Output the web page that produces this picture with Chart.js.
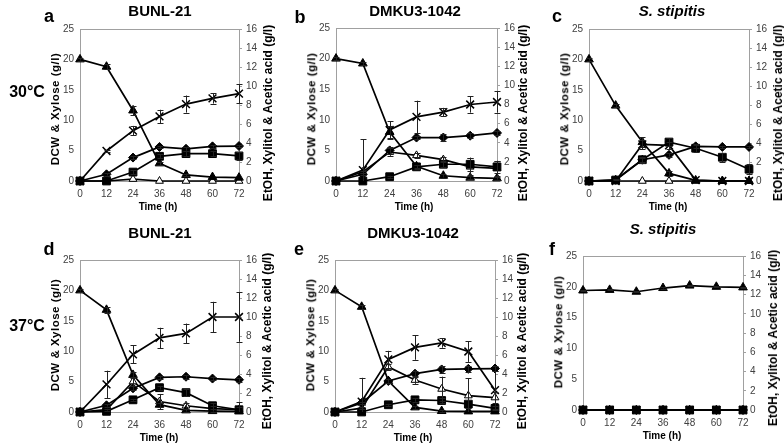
<!DOCTYPE html>
<html><head><meta charset="utf-8">
<script src="https://cdn.jsdelivr.net/npm/chart.js@4"></script>
<style>
body{margin:0;width:784px;height:447px;background:#fff;position:relative;overflow:hidden;font-family:"Liberation Sans",Arial,sans-serif;}
canvas{position:absolute;}
.t{position:absolute;font-weight:bold;white-space:nowrap;line-height:1;transform:translate(-50%,-50%);color:#000}
.ttl{font-size:15px}
.let{font-size:18px}
.temp{font-size:16px}
.yl{font-size:12px;transform:translate(-50%,-50%) rotate(-90deg)}
.yll{font-size:11.5px;letter-spacing:0.5px;transform:translate(-50%,-50%) rotate(-90deg)}
.xl{font-size:10px}
</style>
</head><body>
<script>
const hours = [0, 12, 24, 36, 48, 60, 72];
const leftTicks = [0, 5, 10, 15, 20, 25];
const rightTicks = [0, 2, 4, 6, 8, 10, 12, 14, 16];

// a: BUNL-21, 30°C
const a_xylose = [20, 18.8, 11.6, 2.9, 1.0, 0.65, 0.55];
const a_xyloseErr = [0.2, 0.4, 0.8, 0.3, 0.2, 0, 0];
const a_dcw = [0, 1.1, 3.85, 5.6, 5.3, 5.7, 5.75];
const a_dcwErr = [0, 0.2, 0.3, 0.2, 0.3, 0.2, 0.2];
const a_etoh = [0, 0, 0.94, 2.6, 2.88, 2.88, 2.64];
const a_etohErr = [0, 0, 0.2, 0.2, 0.3, 0.3, 0.4];
const a_xylitol = [0, 3.16, 5.3, 6.8, 8.1, 8.7, 9.2];
const a_xylitolErr = [0, 0.1, 0.5, 0.7, 0.9, 0.55, 1.0];
const a_acetic = [0, 0, 0.2, 0, 0, 0, 0];
const a_aceticErr = [0, 0, 0, 0, 0, 0, 0];

// b: DMKU3-1042, 30°C
const b_xylose = [20, 19.2, 8.0, 2.4, 0.86, 0.54, 0.43];
const b_xyloseErr = [0.3, 0.3, 1.0, 0.2, 0.3, 0.2, 0.2];
const b_dcw = [0, 1.1, 5.0, 7.1, 7.1, 7.4, 7.85];
const b_dcwErr = [0, 0.2, 0.6, 0.3, 0.6, 0.4, 0.4];
const b_etoh = [0, 0, 0.45, 1.48, 1.75, 1.75, 1.48];
const b_etohErr = [0, 0, 0.1, 0.2, 0.3, 0.7, 0.6];
const b_xylitol = [0, 1.14, 5.33, 6.7, 7.2, 8.0, 8.26];
const b_xylitolErr = [0, 3.2, 0.9, 1.7, 0.45, 0.85, 1.1];
const b_acetic = [0, 0.96, 3.03, 2.68, 2.24, 1.48, 1.31];
const b_aceticErr = [0, 0.1, 0.4, 0.3, 0.3, 0.9, 0.8];

// c: S. stipitis, 30°C
const c_xylose = [20, 12.4, 6.4, 1.25, 0.1, 0, 0];
const c_xyloseErr = [0.2, 0.3, 0.8, 0.4, 0, 0, 0];
const c_dcw = [0, 0.2, 3.5, 4.3, 5.7, 5.6, 5.6];
const c_dcwErr = [0, 0.1, 0.3, 0.3, 0.3, 0.2, 0.2];
const c_etoh = [0, 0.1, 2.24, 4.1, 3.45, 2.5, 1.24];
const c_etohErr = [0, 0.1, 0.3, 0.4, 0.4, 0.5, 0.5];
const c_xylitol = [0, 0, 3.85, 3.75, 0.1, 0, 0];
const c_xylitolErr = [0, 0, 0.5, 0.4, 0, 0, 0];
const c_acetic = [0, 0, 0, 0, 0, 0, 0];
const c_aceticErr = [0, 0, 0, 0, 0, 0, 0];

// d: BUNL-21, 37°C
const d_xylose = [20, 16.8, 6.1, 1.2, 0.27, 0.15, 0.1];
const d_xyloseErr = [0.2, 0.5, 0.5, 0.3, 0.2, 0, 0];
const d_dcw = [0, 1.1, 3.9, 5.7, 5.8, 5.5, 5.3];
const d_dcwErr = [0, 0.2, 0.3, 0.3, 0.3, 0.3, 0.3];
const d_etoh = [0, 0.07, 1.28, 2.56, 2.04, 0.66, 0.24];
const d_etohErr = [0, 0, 0.1, 0.2, 0.35, 0.3, 0.3];
const d_xylitol = [0, 2.9, 6.06, 7.8, 8.27, 10.0, 10.0];
const d_xylitolErr = [0, 1.45, 0.95, 1.07, 1.04, 1.6, 2.6];
const d_acetic = [0, 0.24, 3.2, 1.1, 0.66, 0.35, 0.24];
const d_aceticErr = [0, 0.1, 0.5, 0.8, 0.3, 0.3, 0.8];

// e: DMKU3-1042, 37°C
const e_xylose = [20, 17.3, 5.1, 0.76, 0.16, 0.1, 0.1];
const e_xyloseErr = [0.2, 0.3, 0.4, 0.2, 0.1, 0, 0];
const e_dcw = [0, 1.5, 5.1, 6.3, 7.0, 7.1, 7.15];
const e_dcwErr = [0, 0.2, 0.3, 0.5, 0.6, 0.5, 0.4];
const e_etoh = [0, 0, 0.76, 1.28, 1.21, 0.83, 0.38];
const e_etohErr = [0, 0, 0.1, 0.2, 0.3, 0.4, 0.2];
const e_xylitol = [0, 1.1, 5.54, 6.8, 7.27, 6.37, 2.3];
const e_xylitolErr = [0, 2.5, 0.9, 1.3, 0.5, 1.1, 2.0];
const e_acetic = [0, 0.4, 4.74, 3.36, 2.42, 1.73, 1.52];
const e_aceticErr = [0, 0.1, 0.3, 0.4, 1.3, 1.8, 0.6];

// f: S. stipitis, 37°C
const f_xylose = [19.4, 19.5, 19.2, 19.8, 20.2, 20.0, 19.9];
const f_xyloseErr = [0.1, 0.1, 0.1, 0.1, 0.1, 0.1, 0.1];
const f_dcw = [0, 0, 0, 0, 0, 0, 0];
const f_dcwErr = [0, 0, 0, 0, 0, 0, 0];
const f_etoh = [0, 0, 0, 0, 0, 0, 0];
const f_etohErr = [0, 0, 0, 0, 0, 0, 0];
const f_xylitol = [0, 0, 0, 0, 0, 0, 0];
const f_xylitolErr = [0, 0, 0, 0, 0, 0, 0];
const f_acetic = [0, 0, 0, 0, 0, 0, 0];
const f_aceticErr = [0, 0, 0, 0, 0, 0, 0];

const leftTitle = 'DCW & Xylose (g/l)';
const rightTitle = 'EtOH, Xylitol & Acetic acid (g/l)';
const timeTitle = 'Time (h)';

const panels = [
  {id:'a', name:'BUNL-21', italic:false, rect:[80,27,239,181], letter:[49,16], title:[160,10], lt:[56,109], rt:[268,113], tt:[158,207],
   xylose:a_xylose, xyloseErr:a_xyloseErr, dcw:a_dcw, dcwErr:a_dcwErr, etoh:a_etoh, etohErr:a_etohErr, xylitol:a_xylitol, xylitolErr:a_xylitolErr, acetic:a_acetic, aceticErr:a_aceticErr},
  {id:'b', name:'DMKU3-1042', italic:false, rect:[336,26,497,181], letter:[300,17], title:[415,10], lt:[312,109], rt:[523,113], tt:[414,207],
   xylose:b_xylose, xyloseErr:b_xyloseErr, dcw:b_dcw, dcwErr:b_dcwErr, etoh:b_etoh, etohErr:b_etohErr, xylitol:b_xylitol, xylitolErr:b_xylitolErr, acetic:b_acetic, aceticErr:b_aceticErr},
  {id:'c', name:'S. stipitis', italic:true, rect:[589,27,749,181], letter:[557,16], title:[672,10], lt:[565,109], rt:[778,113], tt:[668,207],
   xylose:c_xylose, xyloseErr:c_xyloseErr, dcw:c_dcw, dcwErr:c_dcwErr, etoh:c_etoh, etohErr:c_etohErr, xylitol:c_xylitol, xylitolErr:c_xylitolErr, acetic:c_acetic, aceticErr:c_aceticErr},
  {id:'d', name:'BUNL-21', italic:false, rect:[80,258,239,412], letter:[49,249], title:[160,232], lt:[56,335], rt:[267,341], tt:[159,438],
   xylose:d_xylose, xyloseErr:d_xyloseErr, dcw:d_dcw, dcwErr:d_dcwErr, etoh:d_etoh, etohErr:d_etohErr, xylitol:d_xylitol, xylitolErr:d_xylitolErr, acetic:d_acetic, aceticErr:d_aceticErr},
  {id:'e', name:'DMKU3-1042', italic:false, rect:[335,258,495,412], letter:[299,249], title:[413,232], lt:[311,335], rt:[522,341], tt:[413,438],
   xylose:e_xylose, xyloseErr:e_xyloseErr, dcw:e_dcw, dcwErr:e_dcwErr, etoh:e_etoh, etohErr:e_etohErr, xylitol:e_xylitol, xylitolErr:e_xylitolErr, acetic:e_acetic, aceticErr:e_aceticErr},
  {id:'f', name:'S. stipitis', italic:true, rect:[583,254,743,410], letter:[552,249], title:[663,228], lt:[559,332], rt:[773,338], tt:[662,436],
   xylose:f_xylose, xyloseErr:f_xyloseErr, dcw:f_dcw, dcwErr:f_dcwErr, etoh:f_etoh, etohErr:f_etohErr, xylitol:f_xylitol, xylitolErr:f_xylitolErr, acetic:f_acetic, aceticErr:f_aceticErr}
];

const GRAY = '#a0a0a0';
const TICKCOL = '#404040';
const TICKFONT = {family:'"Liberation Sans", Arial, sans-serif', size:10};

function addText(txt, cls, pos, italic) {
  const d = document.createElement('div');
  d.className = 't ' + cls;
  d.textContent = txt;
  d.style.left = pos[0] + 'px';
  d.style.top = pos[1] + 'px';
  if (italic) d.style.fontStyle = 'italic';
  document.body.appendChild(d);
}

const errorBars = {
  id: 'errorBars',
  afterDatasetsDraw(chart) {
    const ctx = chart.ctx;
    chart.data.datasets.forEach((ds, i) => {
      if (!ds.errors) return;
      const meta = chart.getDatasetMeta(i);
      const ys = chart.scales[ds.yAxisID];
      ctx.save();
      ctx.strokeStyle = '#222';
      ctx.lineWidth = 1;
      meta.data.forEach((pt, j) => {
        const e = ds.errors[j];
        if (!e) return;
        const v = ds.data[j].y;
        const top = ys.getPixelForValue(v + e);
        const bot = ys.getPixelForValue(Math.max(v - e, ys.min));
        const x = Math.round(pt.x) + 0.5;
        ctx.beginPath();
        ctx.moveTo(x, top); ctx.lineTo(x, bot);
        ctx.moveTo(x - 3, Math.round(top) + 0.5); ctx.lineTo(x + 3, Math.round(top) + 0.5);
        if (v - e > ys.min) { ctx.moveTo(x - 3, Math.round(bot) + 0.5); ctx.lineTo(x + 3, Math.round(bot) + 0.5); }
        ctx.stroke();
      });
      ctx.restore();
    });
  }
};

const frame = {
  id: 'frame',
  beforeDatasetsDraw(chart) {
    const a = chart.chartArea, ctx = chart.ctx;
    ctx.save();
    ctx.strokeStyle = GRAY; ctx.lineWidth = 1;
    ctx.beginPath();
    ctx.moveTo(a.left, Math.round(a.top) + 0.5);
    ctx.lineTo(a.right, Math.round(a.top) + 0.5);
    ctx.stroke();
    ctx.restore();
  }
};

function makePanel(p) {
  const L = 34, R = 30, T = 10, B = 26;
  const [x1, y1, x2, y2] = p.rect;
  const W = x2 - x1 + L + R, H = y2 - y1 + T + B;
  const cv = document.createElement('canvas');
  cv.width = W; cv.height = H;
  cv.style.left = (x1 - L) + 'px'; cv.style.top = (y1 - T) + 'px';
  cv.style.width = W + 'px'; cv.style.height = H + 'px';
  document.body.appendChild(cv);

  const pts = arr => hours.map((h, i) => ({x: h, y: arr[i]}));
  const ds = (label, arr, err, axis, style, fill, radius, bw) => ({
    label, data: pts(arr), errors: err, yAxisID: axis,
    borderColor: '#000', borderWidth: 1.7, pointStyle: style, pointRadius: radius,
    pointBackgroundColor: fill, pointBorderColor: '#000', pointBorderWidth: bw,
    clip: false, tension: 0, fill: false
  });

  const yScale = (pos, ticks, width) => ({
    position: pos, min: ticks[0], max: ticks[ticks.length - 1],
    afterBuildTicks: s => { s.ticks = ticks.map(v => ({value: v})); },
    ticks: {font: TICKFONT, color: TICKCOL, padding: pos === 'left' ? 6 : 4},
    grid: {drawOnChartArea: false, drawTicks: pos !== 'left', tickLength: 3, color: GRAY},
    border: {color: GRAY},
    afterFit: s => { s.width = width; }
  });

  new Chart(cv, {
    type: 'line',
    data: {datasets: [
      ds('EtOH', p.etoh, p.etohErr, 'yR', 'rect', '#000', 5.5, 1),
      ds('Xylose', p.xylose, p.xyloseErr, 'yL', 'triangle', '#000', 5, 1),
      ds('DCW', p.dcw, p.dcwErr, 'yL', 'rectRot', '#000', 4.5, 1),
      ds('Xylitol', p.xylitol, p.xylitolErr, 'yR', 'crossRot', '#000', 5.5, 1.5),
      ds('Acetic acid', p.acetic, p.aceticErr, 'yR', 'triangle', '#fff', 4.5, 1)
    ]},
    options: {
      responsive: false, animation: false, devicePixelRatio: 1,
      layout: {padding: {top: T, left: 0, right: 0, bottom: 0}},
      plugins: {legend: {display: false}, tooltip: {enabled: false}},
      scales: {
        x: {
          type: 'linear', min: hours[0], max: hours[hours.length - 1],
          afterBuildTicks: s => { s.ticks = hours.map(v => ({value: v})); },
          ticks: {font: TICKFONT, color: TICKCOL, padding: 7, autoSkip: false, maxRotation: 0},
          grid: {drawOnChartArea: false, drawTicks: false, color: GRAY},
          border: {color: GRAY},
          afterFit: s => { s.height = B; }
        },
        yL: yScale('left', leftTicks, L),
        yR: yScale('right', rightTicks, R)
      }
    },
    plugins: [frame, errorBars]
  });

  addText(p.id, 'let', p.letter);
  addText(p.name, 'ttl', p.title, p.italic);
  addText(leftTitle, 'yll', p.lt);
  addText(rightTitle, 'yl', p.rt);
  addText(timeTitle, 'xl', p.tt);
}

panels.forEach(makePanel);
addText('30°C', 'temp', [27, 92]);
addText('37°C', 'temp', [27, 326]);
</script>
</body></html>
